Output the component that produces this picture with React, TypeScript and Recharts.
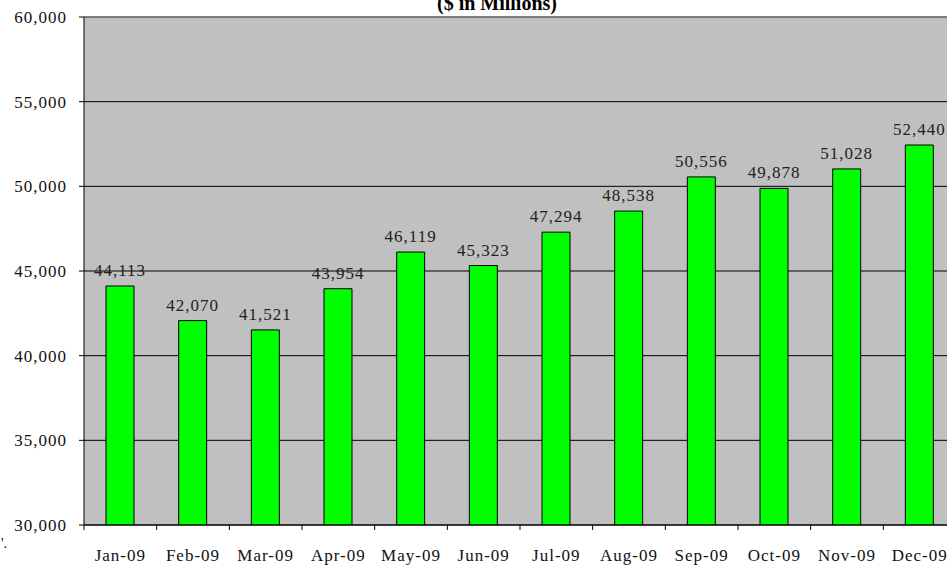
import { BarChart, Bar, XAxis, YAxis, CartesianGrid, LabelList, ReferenceLine } from 'recharts';

const months = ['Jan-09', 'Feb-09', 'Mar-09', 'Apr-09', 'May-09', 'Jun-09', 'Jul-09', 'Aug-09', 'Sep-09', 'Oct-09', 'Nov-09', 'Dec-09'];
const balances = [44113, 42070, 41521, 43954, 46119, 45323, 47294, 48538, 50556, 49878, 51028, 52440];
const yTicks = [30000, 35000, 40000, 45000, 50000, 55000, 60000];

const FONT = '"Liberation Serif", "Times New Roman", serif';

const data = months.map((month, i) => ({ month, value: balances[i] }));

const fmt = (v: number) => v.toLocaleString('en-US');

// category ticks sit between the bars, label stays centred
function MonthTick(props: any) {
  const { x, y, payload } = props;
  const half = payload?.offset ?? 0;
  return (
    <g>
      <line x1={x - half} x2={x - half} y1={y} y2={y + 5} stroke="#000" />
      <text x={x} y={y + 36} textAnchor="middle" fontFamily={FONT} fontSize={17} letterSpacing={1} fill="#111">
        {payload.value}
      </text>
    </g>
  );
}

export default function App() {
  return (
    <div style={{ position: 'absolute', left: 0, top: 0, width: 947, height: 566, overflow: 'hidden', background: '#fff' }}>
      <BarChart width={960} height={566} data={data} margin={{ top: 17, right: 4, bottom: 0, left: 0 }}>
        <CartesianGrid vertical={false} stroke="#000" fill="#C0C0C0" />
        <ReferenceLine y={60000} stroke="#808080" strokeWidth={1.5} ifOverflow="extendDomain" />
        <XAxis
          dataKey="month"
          height={41}
          axisLine={{ stroke: '#000' }}
          tickLine={false}
          tickSize={0}
          tickMargin={0}
          interval={0}
          tick={<MonthTick />}
        />
        <YAxis
          width={84}
          domain={[30000, 60000]}
          ticks={yTicks}
          allowDataOverflow
          tickFormatter={fmt}
          axisLine={{ stroke: '#000' }}
          tickLine={{ stroke: '#000' }}
          tickSize={5}
          tickMargin={12}
          tick={{ fontFamily: FONT, fontSize: 17, fill: '#111', letterSpacing: 1 }}
        />
        <Bar dataKey="value" fill="#00FF00" stroke="#000" strokeWidth={1} barSize={28} isAnimationActive={false}>
          <LabelList
            dataKey="value"
            position="top"
            offset={10}
            formatter={(v: any) => fmt(Number(v))}
            style={{ fontFamily: FONT, fontSize: 17, fill: '#222', letterSpacing: 1 }}
          />
        </Bar>
      </BarChart>
      <svg width={947} height={566} style={{ position: 'absolute', left: 0, top: 0, pointerEvents: 'none' }}>
        <text x={497} y={10} textAnchor="middle" fontFamily={FONT} fontSize={20} fontWeight="bold" fill="#000">
          ($ in Millions)
        </text>
        <text x={1} y={548} fontFamily={FONT} fontSize={14} fill="#000">
          '.
        </text>
      </svg>
    </div>
  );
}
